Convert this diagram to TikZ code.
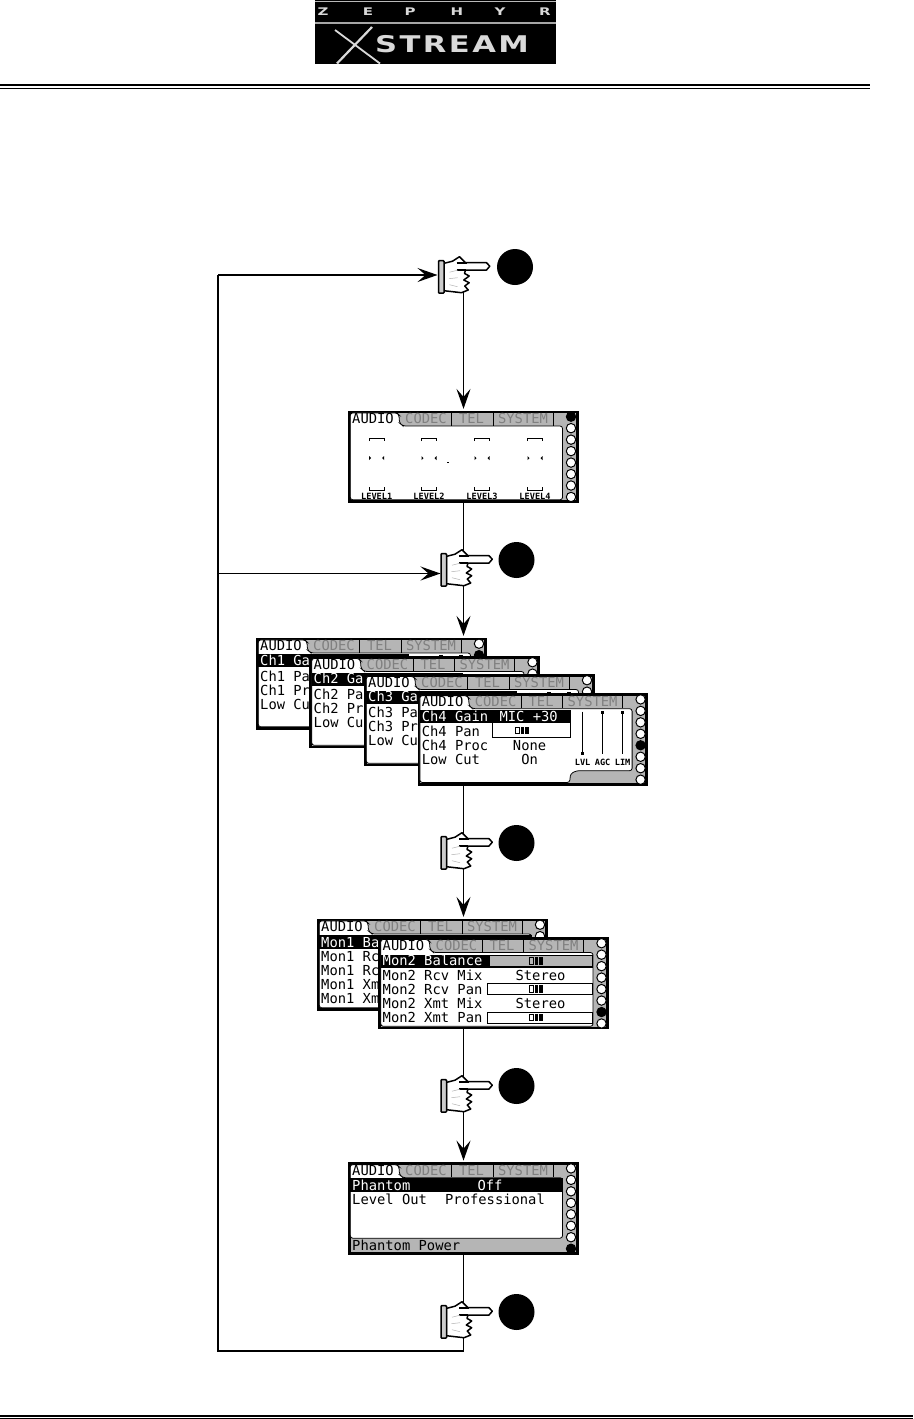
\documentclass[tikz,border=0pt]{standalone}
\usepackage{fontspec}
\setmainfont{Liberation Sans}
\newfontfamily\lcdfont{DejaVu Sans Mono}
\newfontfamily\lcdbold{DejaVu Sans Mono Bold}
\newfontfamily\logofont{DejaVu Sans Bold}
\usetikzlibrary{arrows.meta,calc}
\definecolor{lcdgrey}{gray}{0.71}
\definecolor{tabtext}{gray}{0.5}
\tikzset{
  conn/.style={line width=1.9pt,draw=black},
  arrowconn/.style={conn,-{Stealth[length=20pt,width=14pt,inset=8pt]}},
  scr/.style={draw=black,line width=2.8pt,fill=lcdgrey,minimum width=227.8pt,minimum height=89.5pt,inner sep=0pt,outer sep=0pt,anchor=north west},
  txt/.style={anchor=base west,inner sep=0pt,font=\lcdfont\fontsize{13.8}{14}\selectfont},
  txtc/.style={anchor=base,inner sep=0pt,font=\lcdfont\fontsize{13.8}{14}\selectfont},
  tabt/.style={anchor=base,inner sep=0pt,text=tabtext,font=\lcdfont\fontsize{13.8}{14}\selectfont},
  tiny/.style={anchor=base,inner sep=0pt,font=\lcdbold\fontsize{8.6}{9}\selectfont},
  handbox/.style={minimum width=52pt,minimum height=22pt,inner sep=0pt,outer sep=0pt},
  bullet/.style={circle,fill=black,minimum size=36pt,inner sep=0pt},
  logol/.style={text=white,inner sep=0pt,font=\logofont\fontsize{10}{10}\selectfont},
}
% frame with tabs: name x y index-of-black-led
\newcommand{\lcdframe}[4]{%
  \node[scr] (#1) at (#2+0.3,#3+0.9) {};
  \begin{scope}[shift={(#2,#3)}]
    \foreach \i in {0,...,7}{
      \pgfmathtruncatemacro{\isb}{\i==#4 ? 1 : 0}
      \ifnum\isb=1
        \fill[black] (222,5.7+11.47*\i) circle (5.2);
      \else
        \draw[black,fill=white,line width=1pt] (222,5.7+11.47*\i) circle (4.7);
      \fi
    }
    \draw[black,line width=0.8pt] (102.7,14.5) -- (102.7,1.5) (144,14.5) -- (144,1.5) (204,14.5) -- (204,1.5);
    \draw[black,line width=1.1pt] (50,1.9) -- (54,1.9) (100,1.9) -- (105.5,1.9) (141,1.9) -- (147,1.9) (201,1.9) -- (207,1.9);
    \node[tabt] at (77,12.5) {CODEC};
    \node[tabt] at (122.5,12.5) {TEL};
    \node[tabt] at (174,12.5) {SYSTEM};
  \end{scope}
}
% white panel with open AUDIO tab; arg: bottom dy
\newcommand{\lcdpanel}[1]{%
  \draw[black,line width=0.8pt,rounded corners=2.5pt,fill=white] (1.3,1.9) -- (48,1.9) -- (50,4) -- (50.5,12) -- (54,15) -- (213.5,15) -- (213.5,#1) -- (1.3,#1) -- cycle;
  \node[txt] at (3,12.5) {AUDIO};
}
% channel panel, white up to the LEDs with a notch lower right
\newcommand{\chpanel}{%
  \draw[black,line width=0.8pt,fill=white,rounded corners=2.5pt] (1.3,1.9) -- (48,1.9) -- (50,4) -- (50.5,12) -- (54,15) -- (213.5,15) -- (213.5,77) -- (158,77) -- (152,80) -- (151,88.8) -- (1.3,88.8) -- cycle;
  \node[txt] at (3,12.5) {AUDIO};
  \fill[black] (1.3,16) rectangle (152,29);
  \draw[black,line width=0.9pt,fill=white] (74,29) rectangle (152,44);
  \foreach \xx in {164,184,204}{\draw[black,line width=0.9pt] (\xx,18) -- (\xx,60);}
  \fill[black] (162.3,58) rectangle (165.7,61.4);
  \fill[black] (182.3,17) rectangle (185.7,20.4);
  \fill[black] (202.3,17) rectangle (205.7,20.4);
}
\newcommand{\slider}[3][white]{%
  \draw[black,line width=0.7pt,fill=#1] (#2-8,#3-3.2) rectangle (#2-4,#3+3.2);
  \fill[black] (#2-2.5,#3-3.7) rectangle (#2+0.5,#3+3.7);
  \fill[black] (#2+1.8,#3-3.7) rectangle (#2+5,#3+3.7);
}
% pointing hand drawn over its node: x y of cuff's upper left corner
\newcommand{\handart}[2]{%
  \begin{scope}[shift={(#1,#2)}]
    \draw[black,line width=1.5pt,fill=white,line join=round] (5.3,2.7) -- (14,0.5) -- (21,-4) -- (27,2) -- (48,2) -- (51.3,5.5) -- (48,9.3) -- (27,9.3) -- (26,12.7) -- (30.7,15.3) -- (25.3,19.3) -- (30.7,22) -- (26.3,25.3) -- (29.7,29.3) -- (23,32) -- (5.3,30) -- cycle;
    \draw[black,line width=2pt] (18,2.7) -- (28,2.7);
    \draw[black,line width=1.2pt] (18,9.3) -- (27,9.3);
    \draw[gray!60,line width=0.5pt] (11,11.5) -- (19,9.5) (10.5,18) -- (19,17) (11,24) -- (19,26);
    \draw[black,line width=1.5pt,fill=gray!40,rounded corners=0.8pt] (0,0) rectangle (5.5,32.5);
  \end{scope}
}
\begin{document}
\begin{tikzpicture}[x=1pt,y=-1pt]
\useasboundingbox[fill=white] (0,0) rectangle (913,1419);

% logo
\node[fill=black,minimum width=241pt,minimum height=64pt,inner sep=0pt,anchor=north west] (logo) at (315,0) {};
\fill[gray!55] (315,0.6) rectangle (556,2.2);
\fill[gray!70] (315,21.8) rectangle (556,24);
\foreach \xx/\tt in {323/Z,368/E,410/P,457/H,500/Y,545/R}{
  \node[logol,text=white!85!black] at (\xx,12) {\scalebox{1.5}[1.05]{\tt}};
}
\draw[white!85!black,line width=1.8pt] (335,30) -- (380,63.5);
\draw[white!85!black,line width=2.2pt] (372,27) -- (337,63.5);
\node[text=white!85!black,inner sep=0pt,anchor=base west,font=\logofont\fontsize{23}{23}\selectfont] at (375,52) {\addfontfeature{LetterSpace=8}\scalebox{1.33}[1]{STREAM}};

% header and footer rules
\fill[black] (0,84.2) rectangle (870,86.2);
\fill[black] (0,87.6) rectangle (870,88.4);
\fill[black] (0,1415.4) rectangle (913,1417);
\fill[black] (0,1417.9) rectangle (913,1418.7);

% nodes for the hands and bullets
\node[handbox] (h1) at (463.5,275) {};
\node[handbox] (h2) at (466.5,573.5) {};
\node[handbox] (h3) at (466.5,855) {};
\node[handbox] (h4) at (466.5,1098) {};
\node[handbox] (h5) at (466.5,1324) {};
\node[bullet] (b1) at (515,267) {};
\node[bullet] (b2) at (516.5,560) {};
\node[bullet] (b3) at (516.5,843) {};
\node[bullet] (b4) at (516.5,1086) {};
\node[bullet] (b5) at (516.5,1312) {};
\coordinate (cTL) at (218,275);
\coordinate (cML) at (218,573.5);
\coordinate (cBL) at (218,1351);
\coordinate (cBR) at (463.5,1351);

% first screen
\lcdframe{s1}{349}{411}{0}
\begin{scope}[shift={(349,411)}]
  \lcdpanel{88.8}
  \foreach \xx/\ll in {27.7/LEVEL1,80/LEVEL2,133/LEVEL3,186/LEVEL4}{
    \draw[black,line width=0.9pt] (\xx-7.5,30) -- (\xx-7.5,27.5) -- (\xx+7.5,27.5) -- (\xx+7.5,30);
    \draw[black,line width=0.9pt] (\xx-7.5,76) -- (\xx-7.5,79.5) -- (\xx+7.5,79.5) -- (\xx+7.5,76);
    \fill[black] (\xx-7.5,45) -- (\xx-5.5,47) -- (\xx-7.5,49) -- cycle;
    \fill[black] (\xx+7.5,45) -- (\xx+5.5,47) -- (\xx+7.5,49) -- cycle;
    \node[tiny] at (\xx,88.5) {\ll};
  }
  \fill[black] (98.3,50.5) rectangle (99.5,51.7);
\end{scope}

% channel screens
\lcdframe{ch1}{257}{638}{1}
\begin{scope}[shift={(257,638)}]
  \chpanel
  \node[txt,text=white] at (3,27) {Ch1 Ga};
  \node[txt] at (3,43) {Ch1 Pa};
  \node[txt] at (3,57) {Ch1 Pr};
  \node[txt] at (3,71) {Low Cu};
\end{scope}
\lcdframe{ch2}{310.5}{656.5}{2}
\begin{scope}[shift={(310.5,656.5)}]
  \chpanel
  \node[txt,text=white] at (3,27) {Ch2 Ga};
  \node[txt] at (3,43) {Ch2 Pa};
  \node[txt] at (3,57) {Ch2 Pr};
  \node[txt] at (3,71) {Low Cu};
\end{scope}
\lcdframe{ch3}{365}{674.5}{3}
\begin{scope}[shift={(365,674.5)}]
  \chpanel
  \node[txt,text=white] at (3,27) {Ch3 Ga};
  \node[txt] at (3,43) {Ch3 Pa};
  \node[txt] at (3,57) {Ch3 Pr};
  \node[txt] at (3,71) {Low Cu};
\end{scope}
\lcdframe{ch4}{418.6}{693.7}{4}
\begin{scope}[shift={(418.6,693.7)}]
  \chpanel
  \node[txt,text=white] at (3,27.5) {Ch4 Gain};
  \node[txt,text=white,anchor=base] at (110,27.5) {MIC +30};
  \node[txt] at (3,42.5) {Ch4 Pan};
  \slider{105}{36.5}
  \node[txt] at (3,56.5) {Ch4 Proc};
  \node[txtc] at (111,56.5) {None};
  \node[txt] at (3,70.5) {Low Cut};
  \node[txtc] at (111,70.5) {On};
  \node[tiny] at (164,71.5) {LVL};
  \node[tiny] at (184,71.5) {AGC};
  \node[tiny] at (204,71.5) {LIM};
\end{scope}

% monitor screens
\lcdframe{m1}{318}{919}{5}
\begin{scope}[shift={(318,919)}]
  \lcdpanel{88.8}
  \fill[black] (1.3,16) rectangle (213.5,30);
  \node[txt,text=white] at (3,28) {Mon1 Ba};
  \node[txt] at (3,42) {Mon1 Rc};
  \node[txt] at (3,56) {Mon1 Rc};
  \node[txt] at (3,70) {Mon1 Xm};
  \node[txt] at (3,84) {Mon1 Xm};
\end{scope}
\lcdframe{m2}{379.5}{937.5}{6}
\begin{scope}[shift={(379.5,937.5)}]
  \lcdpanel{88.8}
  \fill[black] (1.3,17) rectangle (213.5,30);
  \draw[black,line width=0.9pt,fill=lcdgrey] (110,18) rectangle (213,29);
  \node[txt,text=white] at (3,28) {Mon2 Balance};
  \slider[lcdgrey]{158}{23.5}
  \node[txt] at (3,42.5) {Mon2 Rcv Mix};
  \node[txtc] at (161,42.5) {Stereo};
  \draw[black,line width=0.9pt,fill=white] (108,46) rectangle (213,57);
  \node[txt] at (3,56.5) {Mon2 Rcv Pan};
  \slider{158}{51.5}
  \node[txt] at (3,70.5) {Mon2 Xmt Mix};
  \node[txtc] at (161,70.5) {Stereo};
  \draw[black,line width=0.9pt,fill=white] (108,74.5) rectangle (213,85.5);
  \node[txt] at (3,84.5) {Mon2 Xmt Pan};
  \slider{158}{80}
\end{scope}

% phantom screen
\lcdframe{p1}{349}{1162.7}{7}
\begin{scope}[shift={(349,1162.7)}]
  \lcdpanel{75.5}
  \fill[black] (1.3,15.5) rectangle (213.5,29.5);
  \node[txt,text=white] at (3,27.3) {Phantom};
  \node[txt,text=white,anchor=base] at (141,27.3) {Off};
  \node[txt] at (3,42) {Level Out};
  \node[txtc] at (146,42) {Professional};
  \node[txt] at (3,87.3) {Phantom Power};
\end{scope}

% connectors
\draw[conn] (cBR) -- (cBL) -- (cTL);
\draw[arrowconn] (cTL) -- (h1.west);
\draw[arrowconn] (cML) -- (h2.west);
\draw[arrowconn,shorten >=3pt] (h1.south) -- (h1.south |- s1.north);
\draw[conn] (h1.south |- s1.south) -- (h1.south |- h2.north);
\draw[arrowconn,shorten >=3pt] (h1.south |- h2.south) -- (h1.south |- ch1.north);
\draw[conn] (h1.south |- ch4.south) -- (h1.south |- h3.north);
\draw[arrowconn,shorten >=3pt] (h1.south |- h3.south) -- (h1.south |- m1.north);
\draw[conn] (h1.south |- m2.south) -- (h1.south |- h4.north);
\draw[arrowconn,shorten >=3pt] (h1.south |- h4.south) -- (h1.south |- p1.north);
\draw[conn] (h1.south |- p1.south) -- (h1.south |- h5.north);
\draw[conn] (h1.south |- h5.south) -- (cBR);

% hands
\handart{438.5}{260.7}
\handart{441}{553.7}
\handart{441}{836.7}
\handart{441}{1079.7}
\handart{441}{1305.7}
\end{tikzpicture}
\end{document}
